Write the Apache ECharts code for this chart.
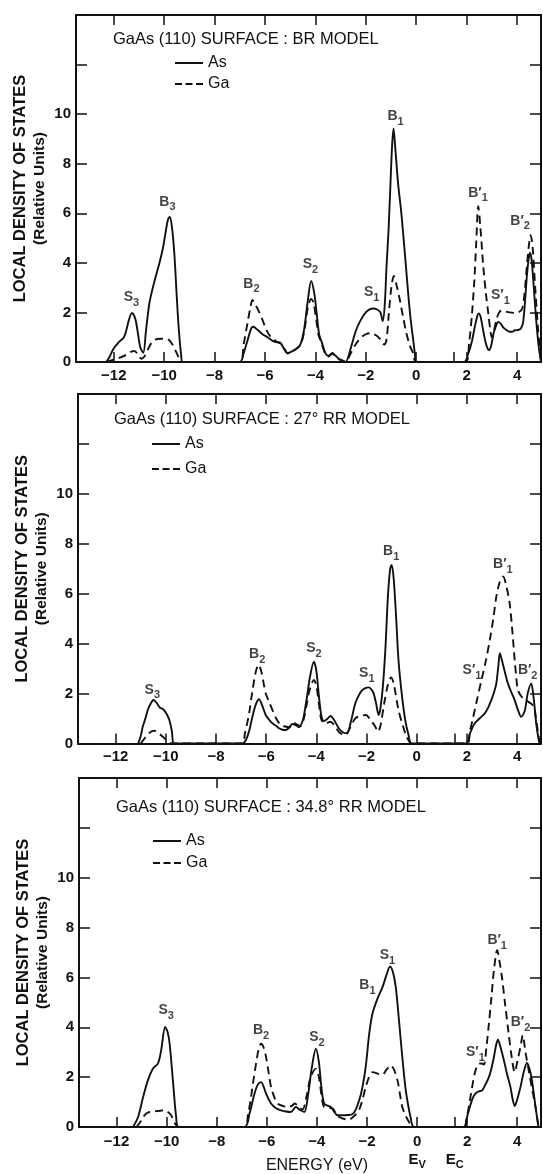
<!DOCTYPE html>
<html>
<head>
<meta charset="utf-8">
<script src="https://cdn.jsdelivr.net/npm/echarts@6/dist/echarts.min.js"></script>
<style>
html,body{margin:0;padding:0;background:#fff;}
#chart{width:543px;height:1174px;}
</style>
</head>
<body>
<div id="chart"></div>
<script>
// ---------------- DATA ----------------
const xMin = -13.5, xMax = 4.95;
const yMin = 0, yMax = 14;
const xTopTicks = [-12, -10, -8, -6, -4, -2, 0, 2, 4];
const xBottomTicks = [-12, -10, -8, -6, -4, -2, 0, 1.5, 2, 4];
const xLabelsPlain = [-12, -10, -8, -6, -4, -2, 0, 2, 4];
const xLabelsLast = [-12, -10, -8, -6, -4, -2, 0, 1.5, 2, 4];

const panelTitles = [
  'GaAs (110) SURFACE : BR MODEL',
  'GaAs (110) SURFACE : 27\u00B0 RR MODEL',
  'GaAs (110) SURFACE : 34.8\u00B0 RR MODEL'
];
const seriesNames = ['As', 'Ga'];

// BR model
const brAs = [
  [-12.3,0],[-12.2,0.15],[-12.0,0.55],[-11.8,0.8],[-11.6,1.0],[-11.5,1.3],[-11.4,1.7],[-11.28,1.98],[-11.15,1.75],
  [-11.05,1.2],[-10.95,0.6],[-10.83,0.37],[-10.72,1.3],[-10.6,2.3],[-10.5,2.8],[-10.35,3.4],[-10.2,3.95],[-10.05,4.6],
  [-9.95,5.2],[-9.85,5.75],[-9.78,5.85],[-9.7,5.5],[-9.6,4.4],[-9.5,2.6],[-9.42,1.3],[-9.33,0.3],[-9.27,0],
  [-7.0,0],[-6.85,0.35],[-6.7,0.85],[-6.55,1.35],[-6.47,1.42],[-6.3,1.3],[-6.1,1.12],[-5.9,1.0],[-5.7,0.85],[-5.55,0.8],
  [-5.4,0.78],[-5.25,0.55],[-5.1,0.35],[-4.95,0.42],[-4.8,0.5],[-4.6,0.7],[-4.45,1.3],[-4.3,2.5],[-4.17,3.27],[-4.05,2.8],
  [-3.95,1.95],[-3.85,1.1],[-3.75,0.8],[-3.6,0.35],[-3.48,0.25],[-3.33,0.37],[-3.2,0.25],[-3.05,0.12],[-2.9,0.05],[-2.8,0],
  [-2.6,0.55],[-2.4,1.25],[-2.2,1.7],[-2.0,2.0],[-1.85,2.12],[-1.7,2.16],[-1.55,2.12],[-1.42,2.0],[-1.33,1.65],[-1.25,2.3],
  [-1.18,3.84],[-1.1,5.3],[-1.03,7.0],[-0.96,8.7],[-0.9,9.42],[-0.83,8.6],[-0.72,7.2],[-0.6,6.1],[-0.52,5.19],[-0.42,4.0],
  [-0.32,2.77],[-0.22,1.7],[-0.12,0.89],[-0.05,0.3],[0,0],
  [1.9,0],[2.05,0.3],[2.2,0.8],[2.32,1.4],[2.42,1.85],[2.48,1.96],[2.56,1.8],[2.65,1.3],[2.75,0.8],[2.85,0.5],[2.9,0.48],
  [2.98,0.7],[3.08,1.2],[3.18,1.5],[3.25,1.62],[3.35,1.55],[3.45,1.4],[3.58,1.29],[3.7,1.22],[3.8,1.22],[3.92,1.28],
  [4.05,1.29],[4.15,1.35],[4.24,1.6],[4.32,2.5],[4.4,3.6],[4.48,4.3],[4.52,4.4],[4.58,4.1],[4.65,3.2],[4.75,1.8],[4.85,0.7],[4.95,0]
];
const brGa = [
  [-12.3,0],[-12.0,0.1],[-11.7,0.2],[-11.5,0.3],[-11.3,0.42],[-11.2,0.45],[-11.1,0.38],[-11.0,0.22],[-10.9,0.13],[-10.8,0.2],
  [-10.65,0.5],[-10.5,0.78],[-10.35,0.9],[-10.15,0.94],[-9.95,0.94],[-9.8,0.88],[-9.68,0.72],[-9.57,0.5],[-9.47,0.28],[-9.38,0.1],[-9.3,0],
  [-7.0,0],[-6.85,0.7],[-6.7,1.55],[-6.58,2.2],[-6.5,2.5],[-6.4,2.35],[-6.25,2.05],[-6.1,1.7],[-5.95,1.3],[-5.8,1.05],[-5.67,0.95],
  [-5.55,0.82],[-5.4,0.75],[-5.25,0.55],[-5.1,0.35],[-4.95,0.42],[-4.8,0.5],[-4.6,0.68],[-4.45,1.2],[-4.3,2.2],[-4.17,2.54],
  [-4.08,2.4],[-3.98,1.8],[-3.88,1.1],[-3.77,0.8],[-3.62,0.35],[-3.48,0.22],[-3.33,0.33],[-3.2,0.22],[-3.05,0.1],[-2.9,0.03],[-2.8,0],
  [-2.6,0.35],[-2.4,0.72],[-2.2,0.98],[-2.0,1.12],[-1.84,1.16],[-1.7,1.13],[-1.55,1.05],[-1.4,0.88],[-1.27,0.7],[-1.18,0.9],
  [-1.1,1.8],[-1.0,2.9],[-0.89,3.47],[-0.78,3.1],[-0.65,2.5],[-0.52,1.8],[-0.39,1.16],[-0.25,0.65],[-0.12,0.35],[0,0],
  [1.95,0],[2.1,0.8],[2.2,1.8],[2.3,3.2],[2.38,4.8],[2.46,6.29],[2.54,5.5],[2.66,3.84],[2.76,2.8],[2.86,1.96],[2.95,1.2],
  [3.0,1.0],[3.08,1.25],[3.18,1.7],[3.27,1.96],[3.38,2.08],[3.5,2.05],[3.7,2.0],[3.9,1.98],[4.05,2.0],[4.2,2.15],[4.3,2.8],
  [4.4,4.0],[4.48,4.8],[4.54,5.12],[4.62,4.6],[4.72,3.0],[4.82,1.5],[4.92,0.3],[4.95,0]
];
// 27 deg RR model
const rr27As = [
  [-11.1,0],[-11.0,0.3],[-10.92,0.67],[-10.8,1.05],[-10.72,1.34],[-10.6,1.6],[-10.49,1.74],[-10.38,1.65],[-10.25,1.45],
  [-10.1,1.36],[-9.98,1.2],[-9.86,0.94],[-9.76,0.5],[-9.66,0],
  [-6.95,0],[-6.81,0.14],[-6.68,0.5],[-6.55,1.07],[-6.42,1.55],[-6.29,1.77],[-6.15,1.5],[-6.02,1.14],[-5.88,0.95],[-5.75,0.81],
  [-5.6,0.7],[-5.49,0.61],[-5.35,0.55],[-5.22,0.54],[-5.1,0.62],[-4.96,0.78],[-4.83,0.74],[-4.7,0.65],[-4.55,0.9],[-4.45,1.4],
  [-4.37,1.9],[-4.25,2.7],[-4.1,3.28],[-4.0,2.9],[-3.9,1.9],[-3.8,1.1],[-3.7,0.9],[-3.55,1.0],[-3.44,1.1],[-3.3,0.95],[-3.11,0.61],
  [-2.95,0.45],[-2.78,0.41],[-2.62,0.9],[-2.45,1.61],[-2.3,1.95],[-2.19,2.12],[-2.05,2.22],[-1.92,2.25],[-1.82,2.18],[-1.72,2.01],
  [-1.62,1.6],[-1.52,1.14],[-1.45,1.4],[-1.35,2.3],[-1.25,3.8],[-1.15,5.9],[-1.06,7.0],[-1.0,7.15],[-0.92,6.6],[-0.82,5.0],
  [-0.73,3.35],[-0.6,2.0],[-0.46,0.94],[-0.33,0.35],[-0.2,0],
  [1.98,0],[2.1,0.35],[2.2,0.6],[2.31,0.81],[2.5,1.0],[2.71,1.21],[2.85,1.45],[2.97,1.74],[3.08,2.05],[3.17,2.41],[3.25,3.1],
  [3.31,3.62],[3.4,3.3],[3.5,2.9],[3.63,2.41],[3.77,2.05],[3.9,1.74],[4.03,1.35],[4.16,1.07],[4.3,1.3],[4.42,2.0],[4.56,2.41],
  [4.66,1.8],[4.76,0.8],[4.85,0.2],[4.9,0]
];
const rr27Ga = [
  [-11.0,0],[-10.85,0.2],[-10.7,0.38],[-10.55,0.5],[-10.45,0.51],[-10.3,0.42],[-10.12,0.27],[-9.95,0.12],[-9.73,0],
  [-6.95,0],[-6.85,0.4],[-6.75,0.85],[-6.68,1.21],[-6.55,2.1],[-6.42,2.85],[-6.31,3.15],[-6.2,2.9],[-6.1,2.4],[-6.02,2.01],
  [-5.88,1.65],[-5.75,1.34],[-5.6,1.0],[-5.42,0.74],[-5.25,0.68],[-5.09,0.65],[-4.9,0.83],[-4.75,0.75],[-4.63,0.7],[-4.5,1.0],
  [-4.4,1.5],[-4.28,2.1],[-4.1,2.55],[-4.0,2.3],[-3.9,1.6],[-3.8,0.95],[-3.65,0.8],[-3.44,0.87],[-3.3,0.75],[-3.11,0.47],
  [-2.95,0.36],[-2.85,0.34],[-2.65,0.65],[-2.45,1.01],[-2.25,1.1],[-2.03,1.14],[-1.85,0.95],[-1.65,0.67],[-1.55,0.47],[-1.45,0.7],
  [-1.3,1.6],[-1.15,2.35],[-1.02,2.65],[-0.9,2.3],[-0.73,1.34],[-0.55,0.7],[-0.4,0.27],[-0.2,0],
  [2.0,0],[2.12,0.5],[2.25,1.07],[2.4,1.75],[2.58,2.55],[2.75,3.3],[2.91,4.15],[3.05,5.0],[3.17,5.88],[3.3,6.45],[3.44,6.69],
  [3.57,6.3],[3.7,5.62],[3.8,4.6],[3.9,3.35],[3.97,2.6],[4.03,2.14],[4.2,1.85],[4.43,1.68],[4.55,1.6],[4.67,1.47],[4.75,1.0],
  [4.85,0.3],[4.9,0]
];
// 34.8 deg RR model
const rr348As = [
  [-11.34,0],[-11.14,0.4],[-10.94,1.2],[-10.75,1.87],[-10.55,2.34],[-10.35,2.54],[-10.22,3.07],[-10.06,4.01],[-9.96,3.8],
  [-9.88,3.34],[-9.75,1.87],[-9.62,0.4],[-9.52,0],
  [-6.89,0],[-6.69,0.54],[-6.49,1.34],[-6.36,1.7],[-6.23,1.8],[-6.12,1.6],[-6.03,1.34],[-5.83,0.94],[-5.63,0.75],[-5.43,0.67],
  [-5.23,0.62],[-5.04,0.6],[-4.84,0.8],[-4.67,0.68],[-4.5,0.6],[-4.35,1.3],[-4.2,2.4],[-4.04,3.14],[-3.92,2.6],[-3.82,1.6],
  [-3.71,0.94],[-3.55,0.85],[-3.44,0.8],[-3.3,0.6],[-3.18,0.47],[-2.98,0.47],[-2.78,0.48],[-2.58,0.51],[-2.45,0.7],[-2.31,1.07],
  [-2.18,1.6],[-2.05,2.41],[-1.91,3.74],[-1.78,4.55],[-1.58,5.15],[-1.38,5.61],[-1.22,6.1],[-1.08,6.44],[-0.96,6.2],[-0.85,5.61],
  [-0.75,4.6],[-0.65,3.48],[-0.55,2.4],[-0.45,1.47],[-0.35,0.85],[-0.26,0.4],[-0.12,0],
  [1.87,0],[1.97,0.3],[2.07,0.67],[2.2,1.1],[2.33,1.34],[2.47,1.43],[2.6,1.47],[2.73,1.7],[2.87,2.0],[2.97,2.35],[3.07,2.81],
  [3.16,3.3],[3.23,3.5],[3.32,3.25],[3.47,2.67],[3.6,2.1],[3.73,1.6],[3.82,1.1],[3.9,0.84],[4.0,1.1],[4.13,1.6],[4.27,2.25],
  [4.39,2.57],[4.5,2.3],[4.59,1.87],[4.68,1.2],[4.77,0.54],[4.85,0]
];
const rr348Ga = [
  [-11.21,0],[-11.05,0.2],[-10.94,0.4],[-10.8,0.55],[-10.68,0.6],[-10.5,0.63],[-10.35,0.64],[-10.2,0.66],[-10.08,0.67],
  [-9.95,0.6],[-9.82,0.47],[-9.7,0.2],[-9.62,0.07],[-9.55,0],
  [-6.89,0],[-6.75,0.5],[-6.63,1.2],[-6.53,1.9],[-6.43,2.54],[-6.33,3.1],[-6.23,3.34],[-6.13,3.2],[-6.03,2.81],[-5.93,2.2],
  [-5.83,1.6],[-5.7,1.2],[-5.57,0.94],[-5.37,0.85],[-5.17,0.8],[-5.0,0.85],[-4.88,0.94],[-4.72,0.8],[-4.57,0.7],[-4.42,1.2],
  [-4.25,2.0],[-4.04,2.34],[-3.92,2.0],[-3.82,1.3],[-3.71,0.8],[-3.55,0.78],[-3.37,0.74],[-3.22,0.5],[-3.11,0.4],[-2.9,0.32],
  [-2.71,0.3],[-2.5,0.45],[-2.31,0.7],[-2.18,1.1],[-2.05,1.6],[-1.9,2.05],[-1.78,2.2],[-1.68,2.18],[-1.58,2.14],[-1.38,2.1],
  [-1.22,2.3],[-1.05,2.47],[-0.92,2.3],[-0.78,1.87],[-0.68,1.3],[-0.59,0.8],[-0.45,0.45],[-0.32,0.2],[-0.15,0],
  [1.87,0],[2.0,0.45],[2.11,1.07],[2.2,1.6],[2.3,2.14],[2.4,2.45],[2.47,2.54],[2.57,2.55],[2.67,2.51],[2.77,3.2],[2.87,4.15],
  [2.97,5.2],[3.07,6.28],[3.2,7.09],[3.3,6.6],[3.39,6.01],[3.52,4.9],[3.66,3.74],[3.78,2.8],[3.9,2.2],[4.02,2.7],[4.13,3.21],
  [4.22,3.68],[4.33,3.0],[4.46,2.27],[4.6,1.5],[4.73,0.8],[4.85,0]
];

// peak annotations: [label, energy, height]
const brPeaks = [['S3',-11.3,2.62],['B3',-9.87,6.46],['B2',-6.54,3.15],['S2',-4.2,3.95],['S1',-1.77,2.8],
  ['B1',-0.82,9.92],["B'1",2.45,6.83],["S'1",3.34,2.7],["B'2",4.12,5.7]];
const rr27Peaks = [['S3',-10.54,2.15],['B2',-6.36,3.58],['S2',-4.1,3.8],['S1',-1.99,2.81],['B1',-1.02,7.69],
  ["S'1",2.2,2.92],["B'1",3.43,7.18],["B'2",4.42,2.92]];
const rr348Peaks = [['S3',-10.02,4.68],['B2',-6.23,3.88],['S2',-4.0,3.61],['B1',-1.98,5.68],['S1',-1.18,6.88],
  ["S'1",2.33,3.0],["B'1",3.2,7.5],["B'2",4.13,4.21]];

const panelData = [[brAs, brGa, brPeaks], [rr27As, rr27Ga, rr27Peaks], [rr348As, rr348Ga, rr348Peaks]];

// ---------------- LAYOUT / STYLE ----------------
const FONT = '"Liberation Sans", Arial, Helvetica, sans-serif';
const grids = [
  {left: 76, top: 15, width: 465, height: 347, outerBoundsMode: 'none'},
  {left: 78, top: 394, width: 463, height: 349.5, outerBoundsMode: 'none'},
  {left: 79, top: 778, width: 462, height: 349, outerBoundsMode: 'none'}
];
const titlePos = [{left: 113, top: 31}, {left: 114, top: 411}, {left: 116, top: 799}];
const legendPos = [{left: 175, top: 55, gap: 5}, {left: 152, top: 436, gap: 9}, {left: 153, top: 833, gap: 6}];
const solidIcon = 'path://M0,0H28V2H0Z';
const dashIcon = 'path://M0,0H7V2H0Z M10.5,0H17.5V2H10.5Z M21,0H28V2H21Z';

const black = '#111';
const minus = v => String(v).replace('-', '\u2212');
const peakRich = {
  b: {fontSize: 14, fontWeight: 'bold', fontFamily: FONT, color: black, lineHeight: 22},
  s: {fontSize: 11, fontWeight: 'bold', fontFamily: FONT, color: black, lineHeight: 11, verticalAlign: 'bottom'}
};
function peakText(name) {
  const prime = name.indexOf("'") >= 0;
  const base = name[0] + (prime ? '\u2032' : '');
  const sub = name[name.length - 1];
  return '{b|' + base + '}{s|' + sub + '}';
}

const option = {
  backgroundColor: '#fff',
  animation: false,
  textStyle: {fontFamily: FONT, color: black},
  grid: grids,
  title: panelTitles.map((t, i) => ({
    text: t, left: titlePos[i].left, top: titlePos[i].top, padding: 0,
    textStyle: {fontSize: 16.5, fontWeight: 'normal', fontFamily: FONT, color: black}
  })),
  legend: legendPos.map(p => ({
    data: [{name: seriesNames[0], icon: solidIcon}, {name: seriesNames[1], icon: dashIcon}],
    orient: 'vertical', left: p.left, top: p.top, padding: 0,
    itemWidth: 28, itemHeight: 14, itemGap: p.gap, selectedMode: false,
    itemStyle: {color: black, borderWidth: 0},
    textStyle: {fontSize: 16, fontFamily: FONT, color: black}
  })),
  xAxis: [],
  yAxis: [],
  series: []
};

for (let i = 0; i < 3; i++) {
  const last = i === 2;
  option.xAxis.push({
    gridIndex: i, type: 'value', min: xMin, max: xMax, position: 'bottom',
    axisLine: {show: true, onZero: false, lineStyle: {color: black, width: 2}},
    axisTick: {show: true, inside: true, length: 10, customValues: xBottomTicks, lineStyle: {color: black, width: 1.5}},
    axisLabel: {
      show: true, margin: 6, customValues: last ? xLabelsLast : xLabelsPlain,
      fontSize: 15, fontWeight: 'bold', color: black, fontFamily: FONT,
      formatter: v => {
        if (!last) return minus(v);
        if (v === 0) return '{n|0}\n{e|E}{s|V}';
        if (v === 1.5) return '{n| }\n{e|E}{s|C}';
        return '{n|' + minus(v) + '}';
      },
      rich: {
        n: {fontSize: 15, fontWeight: 'bold', color: black, fontFamily: FONT, lineHeight: 17},
        e: {fontSize: 15, color: black, fontFamily: FONT, lineHeight: 20},
        s: {fontSize: 11, color: black, fontFamily: FONT, lineHeight: 11, verticalAlign: 'bottom'}
      }
    },
    splitLine: {show: false},
    name: last ? 'ENERGY (eV)' : '', nameLocation: 'middle', nameGap: 31, nameMoveOverlap: false,
    nameTextStyle: {fontSize: 16, color: black, fontFamily: FONT, padding: [0, 0, 0, 14]}
  });
  option.xAxis.push({
    gridIndex: i, type: 'value', min: xMin, max: xMax, position: 'top',
    axisLine: {show: true, onZero: false, lineStyle: {color: black, width: 2}},
    axisTick: {show: true, inside: true, length: 10, customValues: xTopTicks, lineStyle: {color: black, width: 1.5}},
    axisLabel: {show: false}, splitLine: {show: false}
  });
  option.yAxis.push({
    gridIndex: i, type: 'value', min: yMin, max: yMax, interval: 2, position: 'left',
    axisLine: {show: true, onZero: false, lineStyle: {color: black, width: 2}},
    axisTick: {show: true, inside: true, length: 11, lineStyle: {color: black, width: 1.5}},
    axisLabel: {show: true, margin: 5, fontSize: 15, fontWeight: 'bold', color: black, fontFamily: FONT,
      formatter: v => (v <= 10 ? String(v) : '')},
    splitLine: {show: false},
    name: '{a|LOCAL DENSITY OF STATES}\n{b|(Relative Units)}',
    nameLocation: 'middle', nameRotate: 90, nameGap: 26, nameMoveOverlap: false,
    nameTextStyle: {
      rich: {
        a: {fontSize: 16.5, fontWeight: 'bold', fontFamily: FONT, color: black, lineHeight: 20, align: 'center'},
        b: {fontSize: 15.5, fontWeight: 'bold', fontFamily: FONT, color: black, lineHeight: 20, align: 'center'}
      }
    }
  });
  option.yAxis.push({
    gridIndex: i, type: 'value', min: yMin, max: yMax, interval: 2, position: 'right',
    axisLine: {show: true, onZero: false, lineStyle: {color: black, width: 2}},
    axisTick: {show: true, inside: true, length: 11, lineStyle: {color: black, width: 1.5}},
    axisLabel: {show: false}, splitLine: {show: false}
  });

  const [asData, gaData, peaks] = panelData[i];
  const common = {
    type: 'line', xAxisIndex: 2 * i, yAxisIndex: 2 * i, showSymbol: false, symbol: 'none',
    smooth: 0.3, silent: true
  };
  option.series.push(Object.assign({}, common, {
    name: 'As', data: asData, lineStyle: {color: black, width: 1.9, type: 'solid'}, itemStyle: {color: black}, z: 3
  }));
  option.series.push(Object.assign({}, common, {
    name: 'Ga', data: gaData, lineStyle: {color: black, width: 1.9, type: [8, 5]}, itemStyle: {color: black}, z: 2
  }));
  option.series.push({
    type: 'scatter', xAxisIndex: 2 * i, yAxisIndex: 2 * i, symbolSize: 1, silent: true,
    itemStyle: {color: 'rgba(0,0,0,0)'},
    data: peaks.map(p => ({name: p[0], value: [p[1], p[2]]})),
    label: {show: true, position: 'inside', formatter: p => peakText(p.name), rich: peakRich},
    z: 5
  });
}

const chart = echarts.init(document.getElementById('chart'), null, {renderer: 'canvas'});
chart.setOption(option);
</script>
</body>
</html>
